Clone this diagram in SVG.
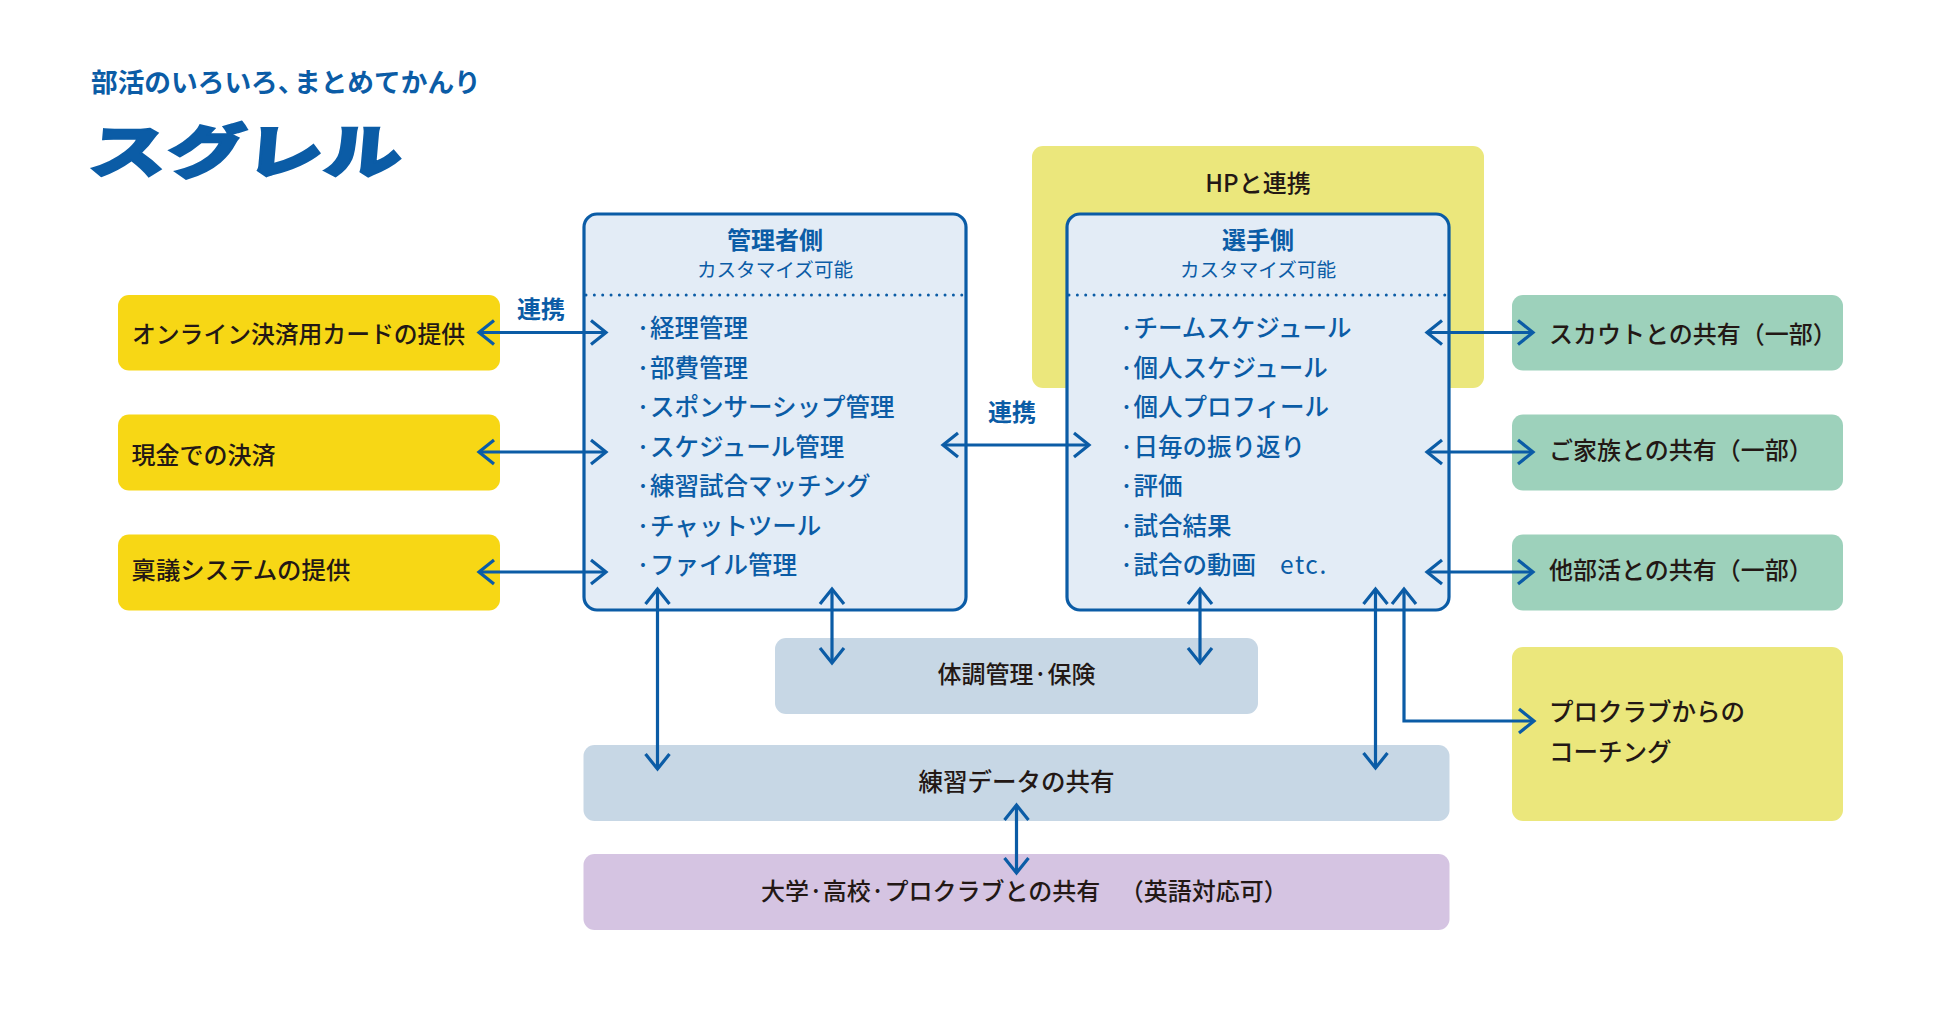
<svg xmlns="http://www.w3.org/2000/svg" width="1950" height="1021" viewBox="0 0 1950 1021">
<style>
text{font-family:"Noto Sans CJK JP","Noto Sans",sans-serif;font-size:24px;font-weight:500}
.d{fill:#231815}
.b{fill:#0b5ca6}
.c{text-anchor:middle}
.i{font-size:24.5px}
.s{font-size:19.6px;font-weight:400}
.k{font-weight:700}
.y{fill:#f7d715}.g{fill:#9dd1bb}.l{fill:#ebe77c}.h{fill:#c7d7e5}.p{fill:#d5c4e2}
.panel{fill:#e3ecf6;stroke:#0b5ca6;stroke-width:3.2}
.dots{fill:none;stroke:#0b5ca6;stroke-width:3;stroke-linecap:round;stroke-dasharray:0 8.35}
.a{fill:none;stroke:#0b5ca6;stroke-width:3.2;marker-start:url(#chev);marker-end:url(#chev)}
.a1{fill:none;stroke:#0b5ca6;stroke-width:3.2;marker-start:url(#chev);marker-end:url(#chev);stroke-linejoin:miter}
</style>
<defs>
<marker id="chev" markerUnits="userSpaceOnUse" markerWidth="24" markerHeight="32" refX="20" refY="16" orient="auto-start-reverse">
<path d="M5,4 L20,16 L5,28" fill="none" stroke="#0b5ca6" stroke-width="3.2"/>
</marker>
</defs>
<rect width="1950" height="1021" fill="#fff"/>
<g id="header">
<text class="b" y="92" style="font-size:26.7px;font-weight:700"><tspan x="91">部活のいろいろ、</tspan><tspan x="294">まとめてかんり</tspan></text>
<text class="b" transform="translate(87,173) skewX(-5) scale(1.34,1)" style="font-size:58.5px;font-weight:900" stroke="#0b5ca6" stroke-width="2">スグレル</text>
</g>
<g id="hp"><rect class="l" x="1032" y="146" width="452" height="242" rx="11"/><text class="d c" x="1258" y="192">HPと連携</text></g>
<g id="admin">
<rect class="panel" x="584" y="214" width="382" height="396" rx="13"/>
<line class="dots" x1="586" y1="295" x2="966" y2="295"/>
<text class="b c k" x="775" y="249">管理者側</text>
<text class="b c s" x="775" y="276.5">カスタマイズ可能</text>
<text class="b i" x="636" y="337">·経理管理</text>
<text class="b i" x="636" y="376.5">·部費管理</text>
<text class="b i" x="636" y="416">·スポンサーシップ管理</text>
<text class="b i" x="636" y="455.5">·スケジュール管理</text>
<text class="b i" x="636" y="495">·練習試合マッチング</text>
<text class="b i" x="636" y="534.5">·チャットツール</text>
<text class="b i" x="636" y="574">·ファイル管理</text>
</g>
<g id="player">
<rect class="panel" x="1067" y="214" width="382" height="396" rx="13"/>
<line class="dots" x1="1069" y1="295" x2="1449" y2="295"/>
<text class="b c k" x="1258" y="249">選手側</text>
<text class="b c s" x="1258" y="276.5">カスタマイズ可能</text>
<text class="b i" x="1119.5" y="337">·チームスケジュール</text>
<text class="b i" x="1119.5" y="376.5">·個人スケジュール</text>
<text class="b i" x="1119.5" y="416">·個人プロフィール</text>
<text class="b i" x="1119.5" y="455.5">·日毎の振り返り</text>
<text class="b i" x="1119.5" y="495">·評価</text>
<text class="b i" x="1119.5" y="534.5">·試合結果</text>
<text class="b i" y="574"><tspan x="1119.5">·試合の動画　</tspan><tspan x="1280" style="letter-spacing:1.6px;font-weight:400">etc.</tspan></text>
</g>
<g id="card"><rect class="y" x="118" y="295" width="382" height="75.5" rx="11"/><text class="d" x="132" y="343" style="font-size:23.8px">オンライン決済用カードの提供</text></g>
<g id="cash"><rect class="y" x="118" y="414.5" width="382" height="76" rx="11"/><text class="d" x="131.5" y="464">現金での決済</text></g>
<g id="ringi"><rect class="y" x="118" y="534.5" width="382" height="76" rx="11"/><text class="d" x="131.5" y="579" style="font-size:24.4px">稟議システムの提供</text></g>
<g id="scout"><rect class="g" x="1512" y="295" width="331" height="75.5" rx="11"/><text class="d" x="1549" y="343">スカウトとの共有（一部）</text></g>
<g id="family"><rect class="g" x="1512" y="414.5" width="331" height="76" rx="11"/><text class="d" x="1549" y="459">ご家族との共有（一部）</text></g>
<g id="club"><rect class="g" x="1512" y="534.5" width="331" height="76" rx="11"/><text class="d" x="1549" y="579">他部活との共有（一部）</text></g>
<g id="coach"><rect class="l" x="1512" y="647" width="331" height="174" rx="11"/><text class="d i" x="1549" y="721">プロクラブからの</text><text class="d i" x="1549" y="761">コーチング</text></g>
<g id="health"><rect class="h" x="775" y="638" width="483" height="76" rx="11"/><text class="d c" x="1016.5" y="683">体調管理·保険</text></g>
<g id="practice"><rect class="h" x="583.5" y="745" width="866" height="76" rx="11"/><text class="d c i" x="1016.5" y="791">練習データの共有</text></g>
<g id="share"><rect class="p" x="583.5" y="854" width="866" height="76" rx="11"/><text class="d" x="761" y="900">大学·高校·プロクラブとの共有 <tspan dx="14">（英語対応可）</tspan></text></g>
<g id="labels">
<text class="b c k" x="541" y="318">連携</text>
<text class="b c k" x="1012" y="421">連携</text>
</g>
<g id="connectors">
<line class="a" x1="479" y1="332.5" x2="606" y2="332.5"/>
<line class="a" x1="479" y1="452" x2="606" y2="452"/>
<line class="a" x1="479" y1="572" x2="606" y2="572"/>
<line class="a" x1="943" y1="445" x2="1089" y2="445"/>
<line class="a" x1="1427" y1="332.5" x2="1533" y2="332.5"/>
<line class="a" x1="1427" y1="452" x2="1533" y2="452"/>
<line class="a" x1="1427" y1="572" x2="1533" y2="572"/>
<line class="a" x1="657.5" y1="589" x2="657.5" y2="769"/>
<line class="a" x1="832" y1="589" x2="832" y2="663"/>
<line class="a" x1="1200" y1="589" x2="1200" y2="663"/>
<line class="a" x1="1375.5" y1="589" x2="1375.5" y2="768"/>
<line class="a" x1="1016.5" y1="805" x2="1016.5" y2="873"/>
<path class="a1" d="M1404,589 V721 H1534"/>
</g>
</svg>
